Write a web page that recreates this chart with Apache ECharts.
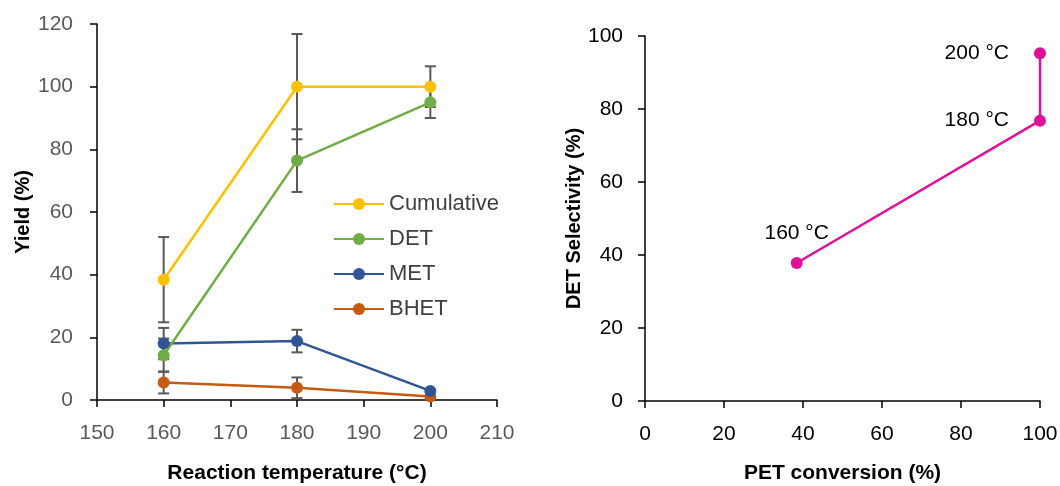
<!DOCTYPE html>
<html>
<head>
<meta charset="UTF-8">
<title>yield</title>
<script src="https://cdn.jsdelivr.net/npm/echarts@6/dist/echarts.min.js"></script>
<style>
  html, body { margin: 0; padding: 0; background: #fff; }
  #main { width: 1060px; height: 486px; }
</style>
</head>
<body>
<div id="main"></div>
<script type="text/javascript">
// data
var temps = [160, 180, 200];
var cumulative = [38.4, 100, 100];
var cumulativeErr = [13.6, 16.8, 6.5];
var det = [14.3, 76.4, 95.0];
var detErr = [5.3, 10.0, 5.0];
var met = [18.0, 18.8, 2.9];
var metErr = [5.0, 3.6, 0];
var bhet = [5.6, 3.9, 1.1];
var bhetErr = [3.5, 3.3, 0];

var conversion = [38.4, 100, 100];
var selectivity = [37.8, 76.8, 95.3];
var pointLabels = ['160 °C', '180 °C', '200 °C'];

var font = '"Liberation Sans", Arial, sans-serif';

function pairs(xs, ys) {
    var out = [];
    for (var i = 0; i < xs.length; i++) out.push([xs[i], ys[i]]);
    return out;
}
function errRows(xs, ys, es) {
    var out = [];
    for (var i = 0; i < xs.length; i++) {
        if (es[i] > 0) out.push([xs[i], ys[i] - es[i], ys[i] + es[i]]);
    }
    return out;
}
function errSeries(rows) {
    return {
        type: 'custom',
        xAxisIndex: 0,
        yAxisIndex: 0,
        z: 1,
        silent: true,
        renderItem: function (params, api) {
            var lo = api.coord([api.value(0), api.value(1)]);
            var hi = api.coord([api.value(0), api.value(2)]);
            var w = 5.5;
            var st = { stroke: '#595959', lineWidth: 2 };
            return {
                type: 'group',
                children: [
                    { type: 'line', shape: { x1: lo[0], y1: lo[1], x2: hi[0], y2: hi[1] }, style: st },
                    { type: 'line', shape: { x1: lo[0] - w, y1: lo[1], x2: lo[0] + w, y2: lo[1] }, style: st },
                    { type: 'line', shape: { x1: hi[0] - w, y1: hi[1], x2: hi[0] + w, y2: hi[1] }, style: st }
                ]
            };
        },
        data: rows
    };
}
function lineSeries(name, ys, color) {
    return {
        name: name,
        type: 'line',
        xAxisIndex: 0,
        yAxisIndex: 0,
        z: 3,
        data: pairs(temps, ys),
        symbol: 'circle',
        symbolSize: 12,
        lineStyle: { color: color, width: 2.5 },
        itemStyle: { color: color }
    };
}

var myChart = echarts.init(document.getElementById('main'));

var axisLine = { show: true, lineStyle: { color: '#000', width: 1.5 } };
var tick = { show: true, length: 7, lineStyle: { color: '#000', width: 1.5 } };

var option = {
    animation: false,
    backgroundColor: '#fff',
    textStyle: { fontFamily: font },
    grid: [
        { left: 97, right: 563, top: 24, bottom: 86, outerBoundsMode: 'none' },
        { left: 645, right: 20, top: 36, bottom: 85, outerBoundsMode: 'none' }
    ],
    legend: {
        data: ['Cumulative', 'DET', 'MET', 'BHET'],
        orient: 'vertical',
        left: 328,
        top: 188,
        itemWidth: 50,
        itemHeight: 15,
        itemGap: 13,
        textStyle: { fontSize: 22, color: '#404040', fontFamily: font }
    },
    xAxis: [
        {
            gridIndex: 0, type: 'value', min: 150, max: 210, interval: 10,
            axisLine: axisLine, axisTick: tick,
            splitLine: { show: false },
            axisLabel: { fontSize: 21, color: '#595959', margin: 23 },
            name: 'Reaction temperature (°C)', nameLocation: 'middle', nameGap: 63,
            nameTextStyle: { fontSize: 21, fontWeight: 'bold', color: '#000' }
        },
        {
            gridIndex: 1, type: 'value', min: 0, max: 100, interval: 20,
            axisLine: axisLine, axisTick: tick,
            splitLine: { show: false },
            axisLabel: { fontSize: 21, color: '#000', margin: 23 },
            name: 'PET conversion (%)', nameLocation: 'middle', nameGap: 62,
            nameTextStyle: { fontSize: 21, fontWeight: 'bold', color: '#000' }
        }
    ],
    yAxis: [
        {
            gridIndex: 0, type: 'value', min: 0, max: 120, interval: 20,
            axisLine: axisLine, axisTick: tick,
            splitLine: { show: false },
            axisLabel: { fontSize: 21, color: '#595959', margin: 24 },
            name: 'Yield (%)', nameLocation: 'middle', nameGap: 64, nameRotate: 90,
            nameTextStyle: { fontSize: 20, fontWeight: 'bold', color: '#000' }
        },
        {
            gridIndex: 1, type: 'value', min: 0, max: 100, interval: 20,
            axisLine: axisLine, axisTick: tick,
            splitLine: { show: false },
            axisLabel: { fontSize: 21, color: '#000', margin: 22 },
            name: 'DET Selectivity (%)', nameLocation: 'middle', nameGap: 60, nameRotate: 90,
            nameTextStyle: { fontSize: 20, fontWeight: 'bold', color: '#000' }
        }
    ],
    series: [
        errSeries(errRows(temps, cumulative, cumulativeErr)),
        errSeries(errRows(temps, det, detErr)),
        errSeries(errRows(temps, met, metErr)),
        errSeries(errRows(temps, bhet, bhetErr)),
        lineSeries('BHET', bhet, '#C55A11'),
        lineSeries('MET', met, '#2F5597'),
        lineSeries('DET', det, '#70AD47'),
        lineSeries('Cumulative', cumulative, '#FFC000'),
        {
            name: 'selectivity',
            type: 'line',
            xAxisIndex: 1,
            yAxisIndex: 1,
            symbol: 'circle',
            symbolSize: 12,
            lineStyle: { color: '#E0109B', width: 2.5 },
            itemStyle: { color: '#E0109B' },
            label: {
                show: true,
                fontSize: 21,
                color: '#000',
                formatter: function (p) { return pointLabels[p.dataIndex]; }
            },
            data: pairs(conversion, selectivity).map(function (d, i) {
                return i === 0
                    ? { value: d, label: { position: 'top', distance: 13 } }
                    : { value: d, label: { position: 'left', distance: 25 } };
            })
        }
    ]
};

myChart.setOption(option);
</script>
</body>
</html>
